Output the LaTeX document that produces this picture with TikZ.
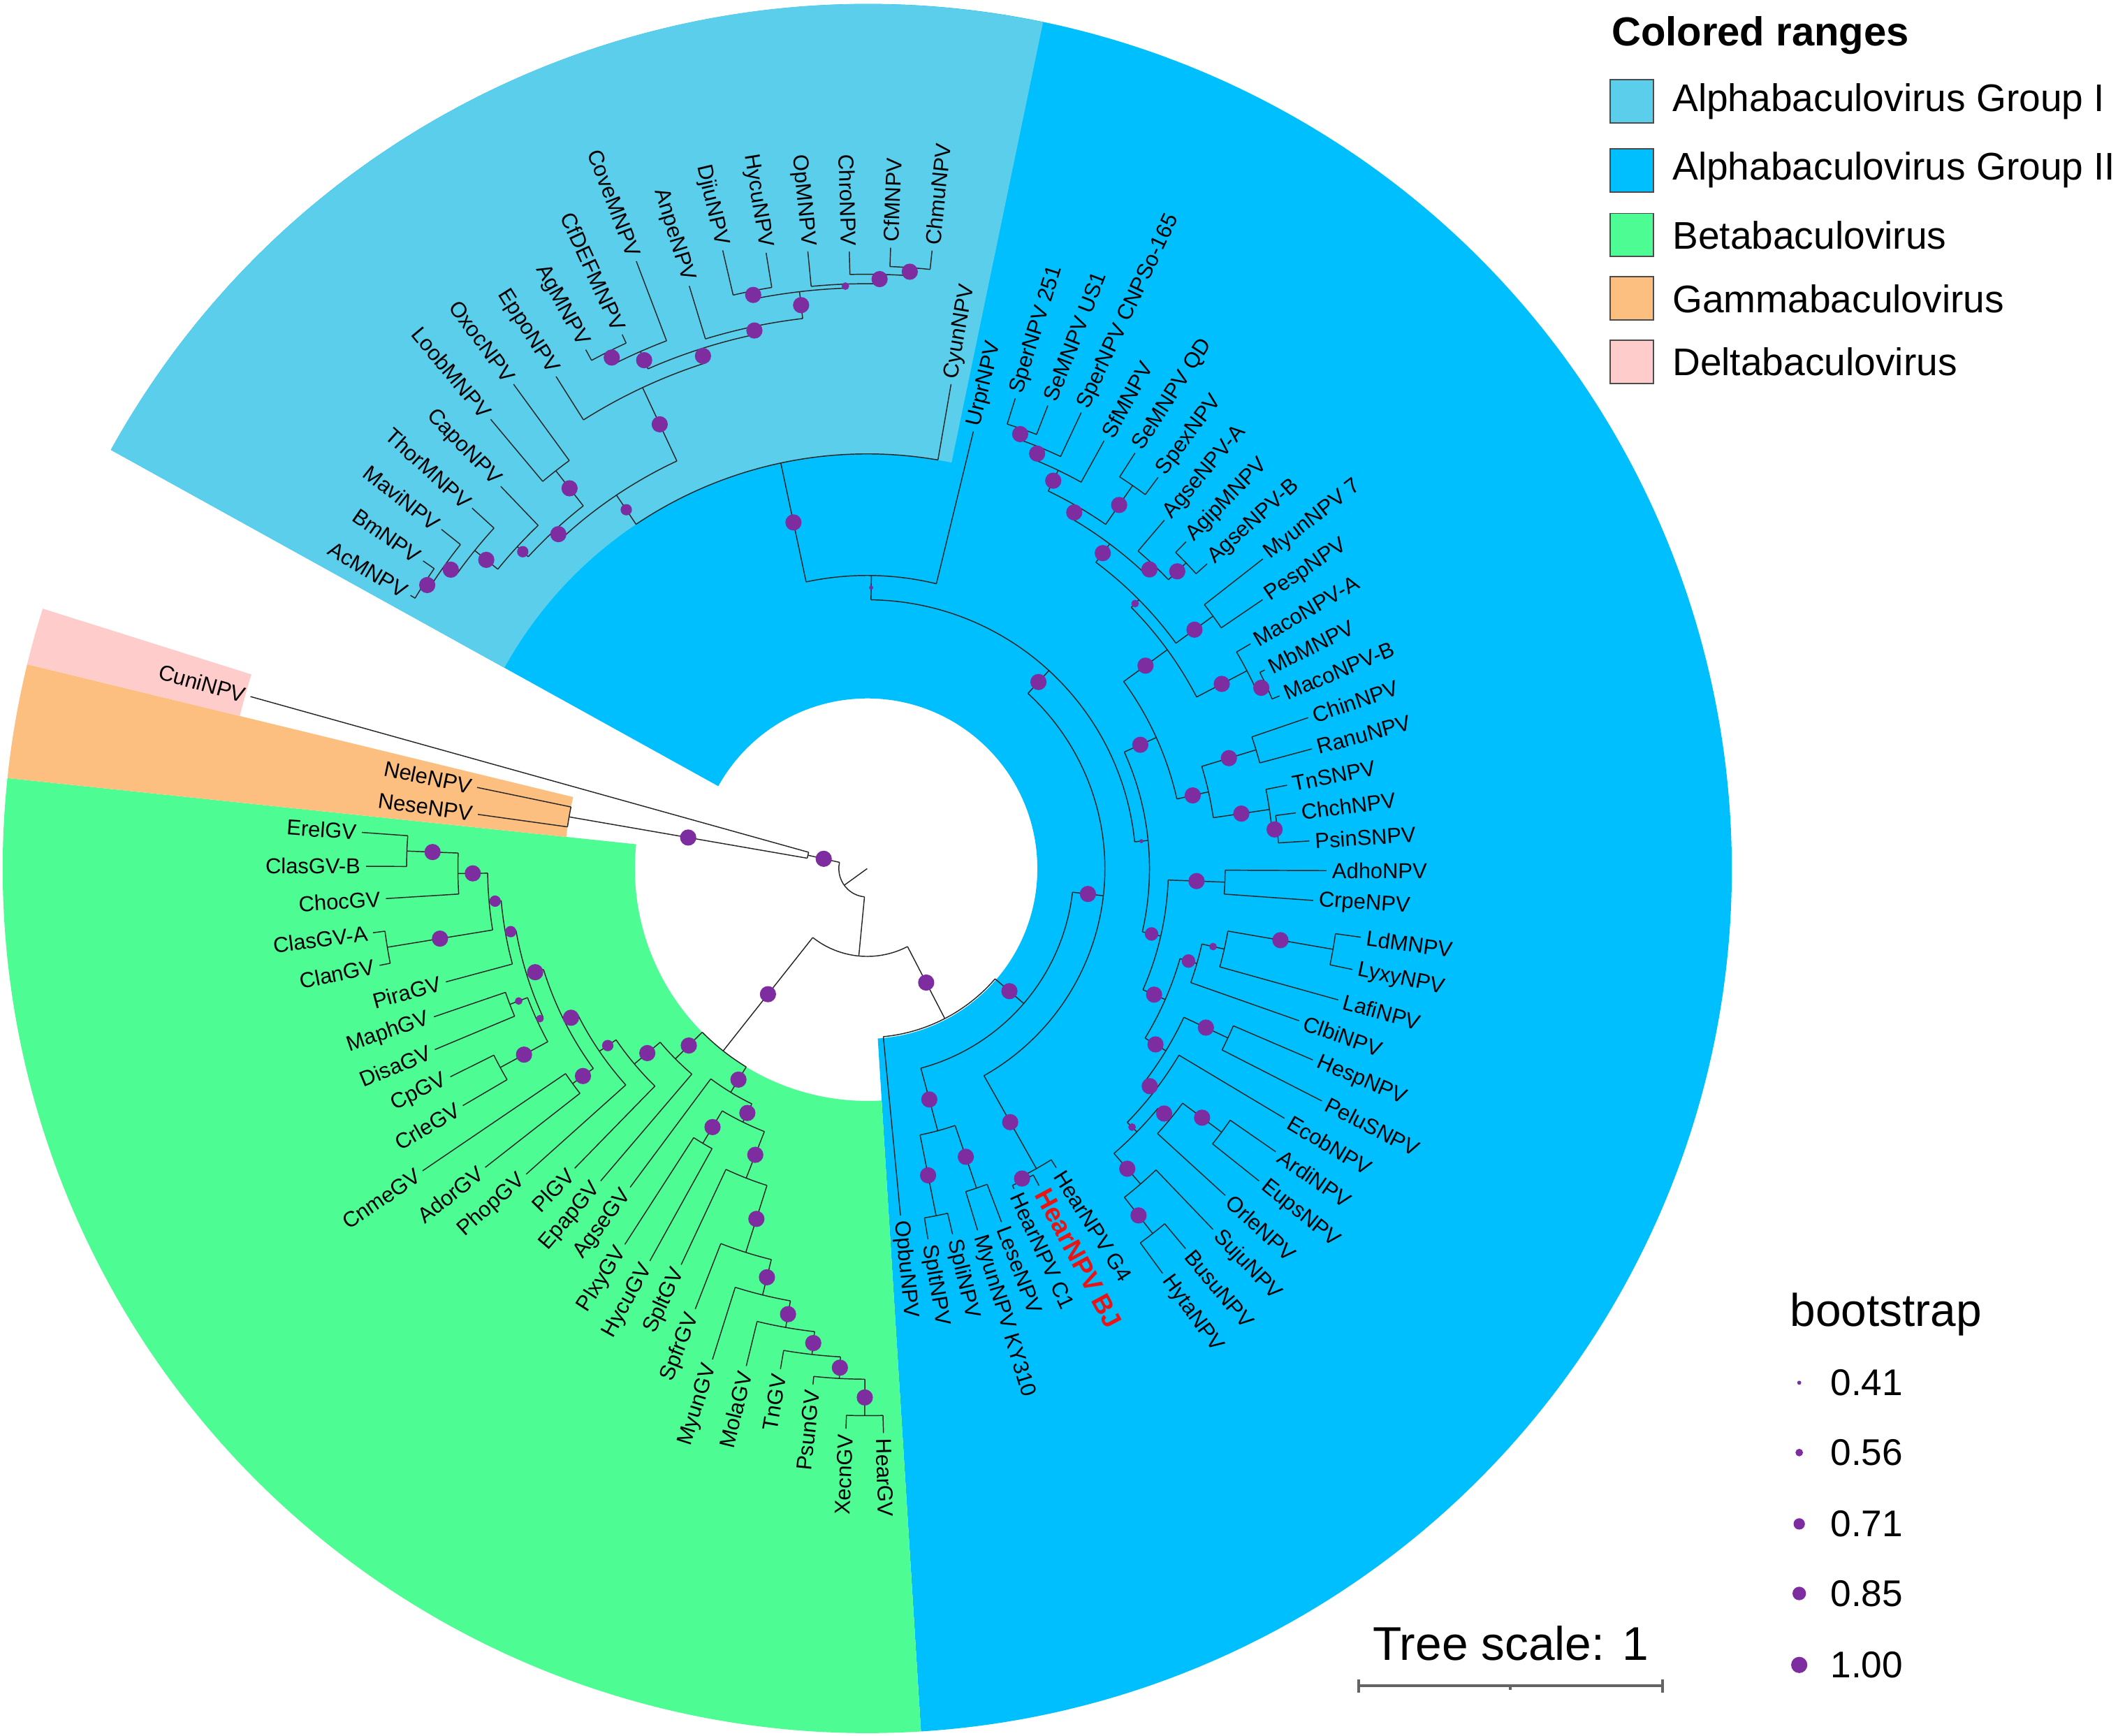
\documentclass[tikz,border=0pt]{standalone}
\usepackage{fontspec}
\setmainfont{Liberation Sans}
\definecolor{gOne}{RGB}{90,206,235}
\definecolor{gTwo}{RGB}{0,191,255}
\definecolor{gBeta}{RGB}{77,252,147}
\definecolor{gGamma}{RGB}{253,191,127}
\definecolor{gDelta}{RGB}{255,204,204}
\definecolor{bsdot}{RGB}{125,45,160}
\definecolor{bjred}{RGB}{235,20,20}
\definecolor{sclgray}{RGB}{100,100,100}
\makeatletter
% leaf: [style] id angle tip text
\newcommand\lf[5][]{%
  \expandafter\xdef\csname A@#2\endcsname{#3}%
  \expandafter\xdef\csname R@#2\endcsname{#4}%
  \expandafter\xdef\csname D@#2\endcsname{0}%
  \coordinate (#2) at (#3:#4pt);
  \pgfmathsetmacro\lf@c{cos(#3)}%
  \pgfmathsetmacro\lf@r{#4+4}%
  \ifdim\lf@c pt<0pt
    \pgfmathsetmacro\lf@rot{#3+180}\def\lf@anc{east}%
  \else
    \pgfmathsetmacro\lf@rot{#3}\def\lf@anc{west}%
  \fi
  \node[leaflab,#1,anchor=\lf@anc,rotate=\lf@rot] (L#2) at (#3:\lf@r pt) {#5};
}
% internal node: [dot radius] id radius children
\newcommand\nd[4][6.0]{%
  \gdef\nd@first{}%
  \foreach \kid in {#4}{%
    \ifx\nd@first\empty\xdef\nd@first{\kid}\fi
    \xdef\nd@last{\kid}}%
  \edef\nd@af{\csname A@\nd@first\endcsname}%
  \edef\nd@al{\csname A@\nd@last\endcsname}%
  \pgfmathsetmacro\nd@a{(\nd@af+\nd@al)/2}%
  \expandafter\xdef\csname A@#2\endcsname{\nd@a}%
  \expandafter\xdef\csname R@#2\endcsname{#3}%
  \expandafter\xdef\csname D@#2\endcsname{#1}%
  \coordinate (#2) at (\nd@a:#3pt);
  \draw[branch] (\nd@af:#3pt) arc[start angle=\nd@af, end angle=\nd@al, radius=#3pt];
  \foreach \kid in {#4}{%
    \edef\nd@ca{\csname A@\kid\endcsname}%
    \draw[branch] (\nd@ca:#3pt) -- (\kid);
  }%
  \foreach \kid in {#4}{%
    \edef\nd@ca{\csname A@\kid\endcsname}%
    \edef\nd@cr{\csname R@\kid\endcsname}%
    \edef\nd@cd{\csname D@\kid\endcsname}%
    \ifdim\nd@cd pt>0pt
      \pgfmathsetmacro\nd@m{(#3+\nd@cr)/2}%
      \fill[bsdot] (\nd@ca:\nd@m pt) circle[radius=\nd@cd pt];
    \fi
  }%
}
% colored range: color a1 a2 rin rout
\newcommand\rng[5]{%
  \fill[#1] (#2:#4pt) arc[start angle=#2,end angle=#3,radius=#4pt]
    -- (#3:#5pt) arc[start angle=#3,end angle=#2,radius=#5pt] -- cycle;}
\makeatother
\begin{document}
\begin{tikzpicture}[x=1pt,y=1pt,
  branch/.style={draw=black!85,line width=0.75pt},
  leaflab/.style={font=\fontsize{16}{16}\selectfont,inner sep=0pt},
  bjlab/.style={font=\bfseries\fontsize{19.5}{19.5}\selectfont,text=bjred},
  legtxt/.style={font=\fontsize{28.5}{28.5}\selectfont,inner sep=0pt,anchor=west},
  legsq/.style={draw=black!70,line width=1pt,minimum width=32pt,minimum height=32pt,inner sep=0pt},
  bsval/.style={font=\fontsize{27.5}{27.5}\selectfont,inner sep=0pt,anchor=west},
  bsleg/.style={circle,fill=bsdot,inner sep=0pt},
  scl/.style={draw=sclgray,line width=2pt}]
\useasboundingbox (-642pt,-642pt) rectangle (926pt,643pt);
\fill[white] (-642pt,-642pt) rectangle (926pt,643pt);
% colored ranges
\rng{gTwo}{273.57}{511.03}{126}{640}
\rng{gOne}{438.26}{511.03}{307}{640}
\rng{gBeta}{173.99}{273.57}{172}{640}
\rng{gGamma}{166.33}{173.99}{224}{640}
\rng{gDelta}{162.5}{166.33}{478}{640}
% leaves: Delta, Gamma
\lf{Cuni}{164.415}{474}{CuniNPV}
\lf{Nele}{168.245}{295}{NeleNPV}
\lf{Nese}{172.075}{291}{NeseNPV}
% Beta
\lf{Erel}{175.905}{375}{ErelGV}
\lf{ClasB}{179.735}{371}{ClasGV-B}
\lf{Choc}{183.565}{357}{ChocGV}
\lf{ClasA}{187.395}{369}{ClasGV-A}
\lf{Clan}{191.225}{368}{ClanGV}
\lf{Pira}{195.055}{323}{PiraGV}
\lf{Maph}{198.885}{339}{MaphGV}
\lf{Disa}{202.715}{347}{DisaGV}
\lf{Cp}{206.545}{345}{CpGV}
\lf{Crle}{210.375}{347}{CrleGV}
\lf{Cnme}{214.205}{398}{CnmeGV}
\lf{Ador}{218.035}{359}{AdorGV}
\lf{Phop}{221.865}{339}{PhopGV}
\lf{Pl}{225.695}{310}{PlGV}
\lf{Epap}{229.525}{304}{EpapGV}
\lf{AgseG}{233.355}{294}{AgseGV}
\lf{Plxy}{237.185}{331}{PlxyGV}
\lf{HycuG}{241.015}{332}{HycuGV}
\lf{SpltG}{244.845}{324}{SpltGV}
\lf{Spfr}{248.675}{350}{SpfrGV}
\lf{MyunG}{252.505}{381}{MyunGV}
\lf{Mola}{256.335}{379}{MolaGV}
\lf{Tn}{260.165}{376}{TnGV}
\lf{Psun}{263.995}{384}{PsunGV}
\lf{Xecn}{267.825}{415}{XecnGV}
\lf{HearG}{271.655}{418}{HearGV}
% Group II
\lf{Opbu}{275.485}{258}{OpbuNPV}
\lf{SpltN}{279.315}{278}{SpltNPV}
\lf{SpliN}{283.145}{278}{SpliNPV}
\lf{MyunKY}{286.975}{280}{MyunNPV KY310}
\lf{Lese}{290.805}{280}{LeseNPV}
\lf{HearCa}{294.635}{261}{HearNPV C1}
\lf[bjlab]{HearBJ}{298.465}{267}{HearNPV BJ}
\lf{HearGf}{302.295}{262}{HearNPV G4}
\lf{Hyta}{306.125}{371}{HytaNPV}
\lf{Busu}{309.955}{367}{BusuNPV}
\lf{Suju}{313.785}{370}{SujuNPV}
\lf{Orle}{317.615}{359}{OrleNPV}
\lf{Eups}{321.445}{371}{EupsNPV}
\lf{Ardi}{325.275}{368}{ArdiNPV}
\lf{Ecob}{329.105}{360}{EcobNPV}
\lf{Pelu}{332.935}{378}{PeluSNPV}
\lf{Hesp}{336.765}{359}{HespNPV}
\lf{Clbi}{340.595}{339}{ClbiNPV}
\lf{Lafi}{344.425}{362}{LafiNPV}
\lf{Lyxy}{348.255}{367}{LyxyNPV}
\lf{Ld}{352.085}{369}{LdMNPV}
\lf{Crpe}{355.915}{331}{CrpeNPV}
\lf{Adho}{359.745}{340}{AdhoNPV}
\lf{Psin}{363.575}{328}{PsinSNPV}
\lf{Chch}{367.405}{320}{ChchNPV}
\lf{TnS}{371.235}{317}{TnSNPV}
\lf{Ranu}{375.065}{341}{RanuNPV}
\lf{Chin}{378.895}{345}{ChinNPV}
\lf{MacoB}{382.725}{331}{MacoNPV-B}
\lf{Mb}{386.555}{329}{MbMNPV}
\lf{MacoA}{390.385}{329}{MacoNPV-A}
\lf{Pesp}{394.215}{354}{PespNPV}
\lf{Myunseven}{398.045}{372}{MyunNPV 7}
\lf{AgseB}{401.875}{338}{AgseNPV-B}
\lf{Agip}{405.705}{338}{AgipMNPV}
\lf{AgseA}{409.535}{339}{AgseNPV-A}
\lf{Spex}{413.365}{361}{SpexNPV}
\lf{SeQD}{417.195}{366}{SeMNPV QD}
\lf{Sf}{421.025}{362}{SfMNPV}
\lf{SperC}{424.855}{373}{SperNPV CNPSo-165}
\lf{SeUS}{428.685}{368}{SeMNPV US1}
\lf{Sperb}{432.515}{365}{SperNPV 251}
\lf{Urpr}{436.345}{333}{UrprNPV}
% Group I
\lf{Cyun}{440.175}{364}{CyunNPV}
\lf{Chmu}{444.005}{460}{ChmuNPV}
\lf{CfM}{447.835}{460}{CfMNPV}
\lf{Chro}{451.665}{457}{ChroNPV}
\lf{OpM}{455.495}{459}{OpMNPV}
\lf{HycuN}{459.325}{462}{HycuNPV}
\lf{Djiu}{463.155}{470}{DjiuNPV}
\lf{Anpe}{466.985}{451}{AnpeNPV}
\lf{Cove}{470.815}{481}{CoveMNPV}
\lf{CfDEF}{474.645}{435}{CfDEFMNPV}
\lf{AgM}{478.475}{437}{AgMNPV}
\lf{Eppo}{482.305}{431}{EppoNPV}
\lf{Oxoc}{486.135}{444}{OxocNPV}
\lf{Loob}{489.965}{434}{LoobMNPV}
\lf{Capo}{493.795}{392}{CapoNPV}
\lf{Thor}{497.625}{396}{ThorMNPV}
\lf{Mavi}{501.455}{403}{MaviNPV}
\lf{Bm}{505.285}{400}{BmNPV}
\lf{Ac}{509.115}{394}{AcMNPV}
% internal nodes: Gamma / Delta
\nd{G}{224}{Nele,Nese}
\nd{DG}{45}{Cuni,G}
% Beta
\nd{EC}{341}{Erel,ClasB}
\nd{NA}{303}{EC,Choc}
\nd{CC}{360}{ClasA,Clan}
\nd[4.2]{NB}{281}{NA,CC}
\nd[4.2]{NC}{272}{NB,Pira}
\nd[2.8]{MD}{283}{Maph,Disa}
\nd{CCb}{309}{Cp,Crle}
\nd[2.8]{Q}{269}{MD,CCb}
\nd{ND}{264}{NC,Q}
\nd{CA}{270}{Cnme,Ador}
\nd{NE}{251}{ND,CA}
\nd[4.2]{W}{240}{NE,Phop}
\nd{V}{225}{W,Pl}
\nd{U}{200}{V,Epap}
\nd{HX}{405}{Xecn,HearG}
\nd{PA}{378}{Psun,HX}
\nd{PB}{362}{Tn,PA}
\nd{PC}{345}{Mola,PB}
\nd{PD}{325}{MyunG,PC}
\nd{PE}{298}{Spfr,PD}
\nd{PF}{246}{SpltG,PE}
\nd{PH}{237}{Plxy,HycuG}
\nd{PG}{209}{PH,PF}
\nd{PI}{194}{AgseG,PG}
\nd{BR}{172}{U,PI}
% Group II
\nd{SS}{262}{SpltN,SpliN}
\nd{ML}{250}{MyunKY,Lese}
\nd{KA}{201}{SS,ML}
\nd{HCa}{258}{HearCa,HearBJ}
\nd{HC}{255}{HCa,HearGf}
\nd{LI}{343}{Hyta,Busu}
\nd{LH}{309}{LI,Suju}
\nd{LK}{327}{Eups,Ardi}
\nd{LJ}{291}{Orle,LK}
\nd[2.8]{LG}{279}{LH,LJ}
\nd{LE}{269}{LG,Ecob}
\nd{LF}{295}{Pelu,Hesp}
\nd{LA}{259}{LE,LF}
\nd{LD}{350}{Lyxy,Ld}
\nd[2.8]{LC}{271}{Lafi,LD}
\nd[5.0]{LB}{254}{Clbi,LC}
\nd{LL}{241}{LA,LB}
\nd{CAb}{265}{Crpe,Adho}
\nd[5.0]{ZA}{223}{LL,CAb}
\nd{YC}{305}{Psin,Chch}
\nd{YB}{301}{YC,TnS}
\nd{YD}{301}{Ranu,Chin}
\nd{YA}{259}{YB,YD}
\nd{MB}{325}{MacoB,Mb}
\nd{MA}{317}{MB,MacoA}
\nd{PM}{317}{Pesp,Myunseven}
\nd{MF}{327}{AgseB,Agip}
\nd{ME}{309}{MF,AgseA}
\nd{MK}{345}{Spex,SeQD}
\nd{MJ}{345}{SeUS,Sperb}
\nd{MI}{337}{SperC,MJ}
\nd{MH}{327}{Sf,MI}
\nd{MG}{310}{MK,MH}
\nd{MDb}{300}{ME,MG}
\nd[2.8]{MC}{283}{PM,MDb}
\nd{MM}{275}{MA,MC}
\nd{Y}{235}{YA,MM}
\nd[1.5]{T}{209}{ZA,Y}
% Group I
\nd{nA}{446}{Chmu,CfM}
\nd{nB}{440}{nA,Chro}
\nd[2.8]{nC}{433}{nB,OpM}
\nd{nE}{436}{HycuN,Djiu}
\nd{nD}{430}{nC,nE}
\nd{nF}{410}{nD,Anpe}
\nd{nI}{428}{CfDEF,AgM}
\nd{nH}{418}{Cove,nI}
\nd{nG}{404}{nF,nH}
\nd{nJ}{393}{nG,Eppo}
\nd{OL}{374}{Oxoc,Loob}
\nd{aA}{390}{Bm,Ac}
\nd{aB}{385}{Mavi,aA}
\nd{aC}{374}{Thor,aB}
\nd[4.2]{aD}{352}{Capo,aC}
\nd{aE}{341}{OL,aD}
\nd[4.2]{GR}{333}{nJ,aE}
\nd{GI}{307}{Cyun,GR}
\nd[1.5]{H}{217}{Urpr,GI}
\nd{XC}{199}{T,H}
\nd{XB}{176}{HC,XC}
\nd{XA}{153}{KA,XB}
\nd{Alpha}{125}{Opbu,XA}
\nd[0]{C}{65}{BR,Alpha}
\nd[0]{B}{21}{DG,C}
\coordinate (root) at (0,0);
\draw[branch] (root) -- (B);
% legend: colored ranges
\node[anchor=base west,font=\bfseries\fontsize{30}{30}\selectfont,inner sep=0pt] (legtitle) at (551pt,609pt) {Colored ranges};
\node[legsq,fill=gOne] (sq1) at (566pt,568pt) {};
\node[legsq,fill=gTwo] (sq2) at (566pt,517pt) {};
\node[legsq,fill=gBeta] (sq3) at (566pt,469pt) {};
\node[legsq,fill=gGamma] (sq4) at (566pt,422pt) {};
\node[legsq,fill=gDelta] (sq5) at (566pt,375pt) {};
\node[legtxt] (lg1) at (596pt,568pt) {Alphabaculovirus Group I};
\node[legtxt] (lg2) at (596pt,517pt) {Alphabaculovirus Group II};
\node[legtxt] (lg3) at (596pt,469pt) {Betabaculovirus};
\node[legtxt] (lg4) at (596pt,422pt) {Gammabaculovirus};
\node[legtxt] (lg5) at (596pt,375pt) {Deltabaculovirus};
% legend: bootstrap
\node[anchor=base west,font=\fontsize{34}{34}\selectfont,inner sep=0pt] (bstitle) at (683pt,-339pt) {bootstrap};
\node[bsleg,minimum size=3pt] (bd1) at (690pt,-380.6pt) {};
\node[bsleg,minimum size=5.6pt] (bd2) at (690pt,-432.3pt) {};
\node[bsleg,minimum size=8.4pt] (bd3) at (690pt,-485.1pt) {};
\node[bsleg,minimum size=10pt] (bd4) at (690pt,-536.6pt) {};
\node[bsleg,minimum size=12pt] (bd5) at (690pt,-589.5pt) {};
\node[bsval] (bv1) at (713pt,-380.6pt) {0.41};
\node[bsval] (bv2) at (713pt,-432.3pt) {0.56};
\node[bsval] (bv3) at (713pt,-485.1pt) {0.71};
\node[bsval] (bv4) at (713pt,-536.6pt) {0.85};
\node[bsval] (bv5) at (713pt,-589.5pt) {1.00};
% tree scale
\node[anchor=base west,font=\fontsize{35}{35}\selectfont,inner sep=0pt] (tscale) at (374pt,-586pt) {Tree scale: 1};
\coordinate (sbL) at (364pt,-605pt);
\coordinate (sbR) at (589pt,-605pt);
\coordinate (sbM) at (476pt,-605pt);
\draw[scl] (sbL) -- (sbR);
\draw[scl] ([yshift=5pt]sbL) -- ([yshift=-5pt]sbL);
\draw[scl] ([yshift=5pt]sbR) -- ([yshift=-5pt]sbR);
\draw[scl] (sbM) -- ([yshift=-3pt]sbM);
\end{tikzpicture}
\end{document}
